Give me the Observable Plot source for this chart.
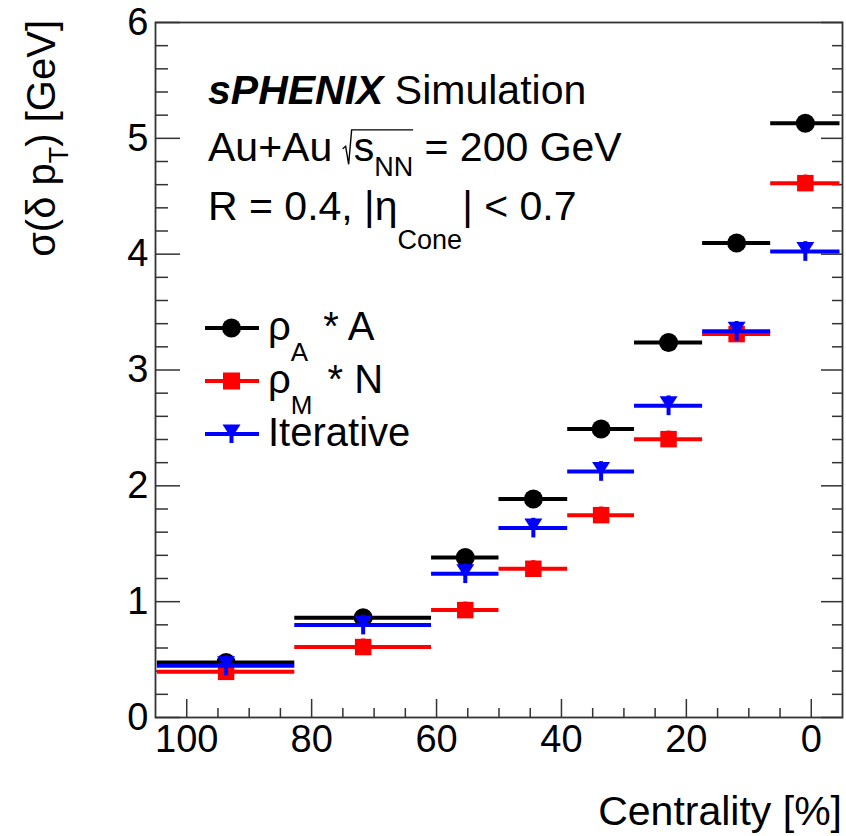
<!DOCTYPE html>
<html><head><meta charset="utf-8">
<script src="https://cdn.jsdelivr.net/npm/d3@7"></script>
<script src="https://cdn.jsdelivr.net/npm/@observablehq/plot@0.6"></script>
<style>
body{margin:0;background:#fff;}
#chart{position:relative;width:846px;height:836px;}
#chart svg text{font-family:"Liberation Sans",Arial,sans-serif;white-space:pre;}
</style></head><body><div id="chart"></div>
<script>
// Centrality bins (drawn left to right), bin edges in axis units
const bins = ["80-100", "60-80", "50-60", "40-50", "30-40", "20-30", "10-20", "0-10"];
const binLeft  = [104.7, 82.7, 60.8, 50.0, 39.0, 28.3, 17.4, 6.5];
const binRight = [82.7, 60.8, 50.0, 39.0, 28.3, 17.4, 6.5, -4.6];
// sigma(delta pT) [GeV]
const rhoA = [0.475, 0.862, 1.381, 1.886, 2.490, 3.237, 4.096, 5.130];
const rhoM = [0.394, 0.608, 0.927, 1.284, 1.747, 2.403, 3.310, 4.613];
const iterative = [0.446, 0.798, 1.241, 1.635, 2.124, 2.691, 3.334, 4.023];
const errA = [0.06, 0.06, 0.06, 0.06, 0.06, 0.06, 0.06, 0.06];
const errM = [0.07, 0.07, 0.07, 0.07, 0.07, 0.07, 0.07, 0.07];
const errI = [0.085, 0.085, 0.085, 0.085, 0.085, 0.085, 0.085, 0.085];
// axis ticks
const xTicks = [100, 80, 60, 40, 20, 0];
const xMinor = [95, 90, 85, 75, 70, 65, 55, 50, 45, 35, 30, 25, 15, 10, 5];
const yTicks = [0, 1, 2, 3, 4, 5, 6];
const yMinor = [0.2,0.4,0.6,0.8,1.2,1.4,1.6,1.8,2.2,2.4,2.6,2.8,3.2,3.4,3.6,3.8,4.2,4.4,4.6,4.8,5.2,5.4,5.6,5.8];

const seriesColors = ["#000000", "#ff0000", "#0000ff"];

const triDown = {draw(ctx, size) {
  const r = Math.sqrt(size / Math.PI);
  ctx.moveTo(-r, -0.78 * r); ctx.lineTo(r, -0.78 * r); ctx.lineTo(0, 0.78 * r); ctx.closePath();
}};

function rows(vals, errs, name) {
  return bins.map((b, i) => ({bin: b, series: name, x1: binLeft[i], x2: binRight[i],
    xc: (binLeft[i] + binRight[i]) / 2, v: vals[i], e: errs[i]}));
}
const dA = rows(rhoA, errA, "rhoA"), dM = rows(rhoM, errM, "rhoM"), dI = rows(iterative, errI, "iter");

function seriesMarks(d, color, symbol, r, dy) {
  return [
    Plot.ruleY(d, {y: "v", x1: "x1", x2: "x2", stroke: color, strokeWidth: 4}),
    Plot.ruleX(d, {x: "xc", y1: d => d.v - d.e, y2: d => d.v + d.e, stroke: color, strokeWidth: 4}),
    Plot.dot(d, {x: "xc", y: "v", symbol: () => symbol, r, fill: color, stroke: "none", dy})
  ];
}

const axisColor = "#333";
const fmt = d => `${d}`;
const plot = Plot.plot({
  width: 846, height: 836,
  marginLeft: 155, marginRight: 4, marginTop: 22, marginBottom: 119,
  style: {background: "white", color: "black", fontFamily: "Liberation Sans, Arial, sans-serif"},
  x: {domain: [105, -5]},
  y: {domain: [0, 6]},
  symbol: {type: "identity"},
  marks: [
    Plot.axisX({ticks: xTicks, tickSize: 0, tickPadding: 8, fontSize: 38, tickFormat: fmt, label: null}),
    Plot.axisX({ticks: xTicks, tickSize: -18, tickFormat: () => "", label: null, stroke: axisColor, strokeWidth: 1.5}),
    Plot.axisX({ticks: xMinor, tickSize: -9, tickFormat: () => "", label: null, stroke: axisColor, strokeWidth: 1.5}),
    Plot.axisY({ticks: yTicks, tickSize: 0, tickPadding: 7, fontSize: 38, tickFormat: fmt, label: null}),
    Plot.axisY({ticks: yTicks, tickSize: -25, tickFormat: () => "", label: null, stroke: axisColor, strokeWidth: 1.5}),
    Plot.axisY({ticks: yMinor, tickSize: -13, tickFormat: () => "", label: null, stroke: axisColor, strokeWidth: 1.5}),
    Plot.axisY({anchor: "right", ticks: yTicks, tickSize: -22, tickFormat: () => "", label: null, stroke: axisColor, strokeWidth: 1.5}),
    Plot.axisY({anchor: "right", ticks: yMinor, tickSize: -11, tickFormat: () => "", label: null, stroke: axisColor, strokeWidth: 1.5}),
    Plot.frame({stroke: axisColor, strokeWidth: 1.8}),
    ...seriesMarks(dA, seriesColors[0], "circle", 9.5, 0),
    ...seriesMarks(dM, seriesColors[1], "square", 9.3, 0),
    ...seriesMarks(dI, seriesColors[2], triDown, 9, -2.5)
  ]
});
document.getElementById("chart").appendChild(plot);

const svg = d3.select(plot);
const FS = 41;
// sequential rich-text layout
function rich(parent, x, y, runs, base) {
  const g = parent.append("g").attr("transform", `translate(${x},${y})`).attr("text-anchor", "start");
  let cx = 0, sqrtX = null;
  for (const r of runs) {
    const fs = r.fs || base;
    if (r.sqrt) { sqrtX = cx; cx += r.sqrt; }
    const t = g.append("text").attr("x", cx).attr("y", r.dy || 0)
      .attr("text-anchor", "start")
      .attr("font-size", fs).attr("fill", "black")
      .attr("font-weight", r.weight || "normal").attr("font-style", r.style || "normal")
      .text(r.t);
    const w = t.node().getComputedTextLength();
    cx += w + (r.dx || 0);
    if (r.sqrtEnd && sqrtX !== null) {
      const top = -base * 0.76;
      g.append("path").attr("d",
        `M${sqrtX - 1},${-base * 0.3} L${sqrtX + 2},${-base * 0.36} L${sqrtX + 5},${base * 0.08} L${sqrtX + 8},${top} L${cx},${top}`)
        .attr("fill", "none").attr("stroke", "black").attr("stroke-width", 1.4);
    }
  }
  return {g, width: cx};
}

// annotation
rich(svg, 208, 104, [{t: "sPHENIX", weight: "bold", style: "italic"}, {t: " Simulation"}], FS);
rich(svg, 208, 161, [{t: "Au+Au "}, {t: "s", sqrt: 10}, {t: "NN", fs: 27, dy: 15, sqrtEnd: true}, {t: " = 200 GeV"}], FS);
rich(svg, 208, 220, [{t: "R = 0.4, |η"}, {t: "Cone", fs: 27, dy: 29}, {t: "| < 0.7"}], FS);

// legend
const LFS = 40;
const legendRows = [
  {runs: [{t: "ρ"}, {t: "A", fs: 26, dy: 21, dx: 4}, {t: " * A"}], y: 340},
  {runs: [{t: "ρ"}, {t: "M", fs: 26, dy: 21, dx: 4}, {t: " * N"}], y: 393},
  {runs: [{t: "Iterative"}], y: 446}
];
legendRows.forEach((row, i) => {
  const cy = row.y - 12;
  svg.append("line").attr("x1", 205).attr("x2", 259).attr("y1", cy).attr("y2", cy)
    .attr("stroke", seriesColors[i]).attr("stroke-width", 4);
  if (i === 0) svg.append("circle").attr("cx", 231.5).attr("cy", cy).attr("r", 9.5).attr("fill", seriesColors[i]);
  if (i === 1) svg.append("rect").attr("x", 223).attr("y", cy - 8.5).attr("width", 17).attr("height", 17).attr("fill", seriesColors[i]);
  if (i === 2) {
    svg.append("line").attr("x1", 231.5).attr("x2", 231.5).attr("y1", cy - 8).attr("y2", cy + 9).attr("stroke", seriesColors[i]).attr("stroke-width", 4);
    svg.append("path").attr("d", `M${231.5 - 9},${cy - 9.5} L${231.5 + 9},${cy - 9.5} L231.5,${cy + 4.5} Z`).attr("fill", seriesColors[i]);
  }
  rich(svg, 268, row.y, row.runs, LFS);
});

// axis titles
svg.append("text").attr("x", 842).attr("y", 825).attr("text-anchor", "end")
  .attr("font-size", 41).attr("fill", "black").text("Centrality [%]");
const yt = rich(svg, 0, 0, [{t: "σ(δ p"}, {t: "T", fs: 27, dy: 13}, {t: ") [GeV]"}], 40);
yt.g.attr("transform", `translate(55,${20 + yt.width}) rotate(-90)`);
</script></body></html>
